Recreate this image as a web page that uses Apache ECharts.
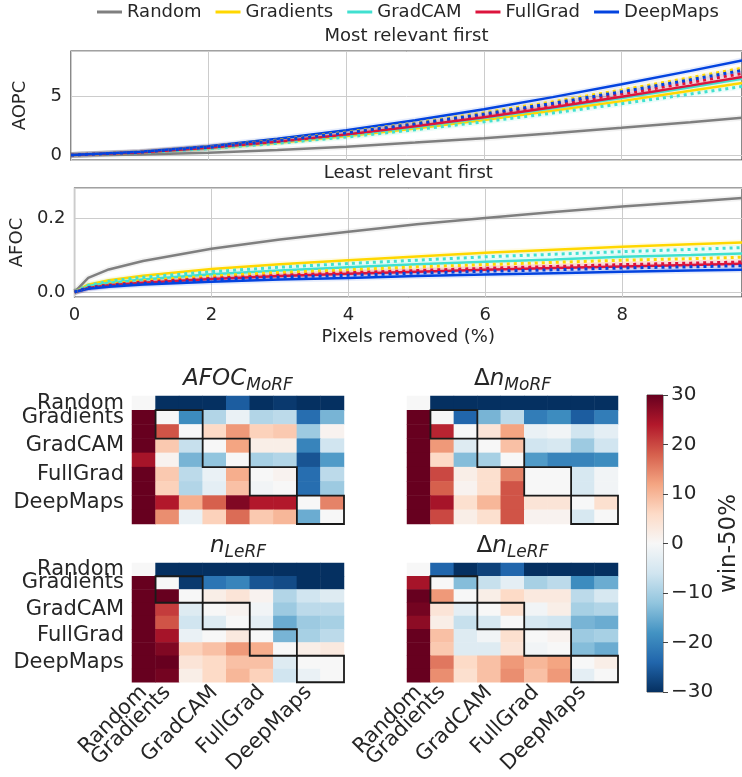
<!DOCTYPE html>
<html><head><meta charset="utf-8">
<script src="https://cdn.jsdelivr.net/npm/echarts@6/dist/echarts.min.js"></script>
<style>html,body{margin:0;padding:0;background:#fff}#c{width:742px;height:777px}</style>
</head><body><div id="c"></div>
<script>
// ---------- data ----------
const methods = ['Random', 'Gradients', 'GradCAM', 'FullGrad', 'DeepMaps'];

// AOPC, most relevant first
const xAOPC = [0, 1, 2, 3, 4, 5, 6, 7, 8, 9, 9.75];
const aopcRandom   = [0, 0.05, 0.2, 0.42, 0.7, 1.05, 1.42, 1.85, 2.3, 2.78, 3.15];
const aopcGrad     = [0, 0.21, 0.57, 1.04, 1.6, 2.25, 2.96, 3.74, 4.56, 5.43, 6.1];
const aopcGrad2    = [0, 0.25, 0.69, 1.26, 1.93, 2.71, 3.57, 4.5, 5.5, 6.54, 7.35];
const aopcCAM      = [0, 0.22, 0.6, 1.1, 1.69, 2.38, 3.13, 3.95, 4.82, 5.74, 6.45];
const aopcCAM2     = [0, 0.2, 0.54, 0.99, 1.52, 2.14, 2.81, 3.55, 4.34, 5.16, 5.8];
const aopcFull     = [0, 0.22, 0.62, 1.13, 1.73, 2.43, 3.2, 4.04, 4.93, 5.87, 6.6];
const aopcFull2    = [0, 0.23, 0.65, 1.18, 1.81, 2.54, 3.35, 4.23, 5.16, 6.14, 6.9];
const aopcDeep     = [0, 0.27, 0.75, 1.37, 2.1, 2.95, 3.88, 4.9, 5.98, 7.12, 8.0];
const aopcDeep2    = [0, 0.24, 0.67, 1.22, 1.88, 2.64, 3.47, 4.38, 5.35, 6.37, 7.15];

// AFOC, least relevant first
const xAFOC = [0, 0.2, 0.5, 1, 2, 3, 4, 5, 6, 7, 8, 9, 9.75];
const afocRandom = [0, 0.038, 0.061, 0.084, 0.117, 0.142, 0.163, 0.183, 0.2, 0.216, 0.231, 0.244, 0.254];
const afocGrad   = [0, 0.02, 0.032, 0.044, 0.062, 0.075, 0.086, 0.096, 0.106, 0.114, 0.122, 0.129, 0.134];
const afocGrad2  = [0, 0.014, 0.023, 0.031, 0.043, 0.053, 0.06, 0.068, 0.074, 0.08, 0.086, 0.09, 0.094];
const afocCAM    = [0, 0.016, 0.025, 0.034, 0.048, 0.058, 0.067, 0.075, 0.082, 0.088, 0.095, 0.1, 0.104];
const afocCAM2   = [0, 0.018, 0.029, 0.04, 0.055, 0.067, 0.077, 0.086, 0.095, 0.102, 0.109, 0.115, 0.12];
const afocFull   = [0, 0.011, 0.018, 0.025, 0.035, 0.043, 0.049, 0.055, 0.06, 0.065, 0.069, 0.073, 0.076];
const afocFull2  = [0, 0.012, 0.019, 0.027, 0.037, 0.045, 0.052, 0.058, 0.064, 0.069, 0.074, 0.078, 0.081];
const afocDeep   = [0, 0.009, 0.014, 0.02, 0.028, 0.034, 0.038, 0.043, 0.047, 0.051, 0.055, 0.058, 0.06];
const afocDeep2  = [0, 0.011, 0.017, 0.023, 0.033, 0.04, 0.045, 0.051, 0.056, 0.06, 0.065, 0.068, 0.071];

// heatmaps (win-50%)
const cats = ['Random', 'Gradients', 'Gradients 2', 'GradCAM', 'GradCAM 2', 'FullGrad', 'FullGrad 2', 'DeepMaps', 'DeepMaps 2'];
const catLabels = ['Random', 'Gradients', '', 'GradCAM', '', 'FullGrad', '', 'DeepMaps', ''];
const blocks = [[1, 2], [3, 4], [5, 6], [7, 8]];

const afocMoRF = [
  [0, -30, -30, -30, -25, -30, -29, -30, -30],
  [30, 0, -19, -9, -2, -9, -8, -23, -14],
  [30, 19, 0, 6, 13, 7, 8, -11, 1],
  [30, 8, -7, 0, 12, 2, 2, -20, -6],
  [25, 1, -14, -12, 0, -10, -9, -26, -17],
  [30, 8, -8, -2, 11, 0, 1, -23, -8],
  [30, 7, -9, -3, 9, -1, 0, -23, -11],
  [30, 24, 11, 18, 28, 24, 24, 0, 15],
  [30, 14, -2, 7, 17, 8, 10, -15, 0]
];
const dnMoRF = [
  [0, -30, -30, -30, -30, -30, -30, -30, -30],
  [30, 0, -24, -14, -8, -21, -19, -25, -21],
  [30, 23, 0, 4, 12, -2, -1, -6, -3],
  [30, 13, -4, 0, 9, -6, -5, -11, -6],
  [30, 6, -13, -10, 0, -17, -20, -20, -19],
  [30, 20, 2, 5, 15, 0, 0, -5, -1],
  [30, 18, 1, 5, 19, 0, 0, -5, -1],
  [30, 25, 5, 10, 19, 4, 4, 0, 5],
  [30, 20, 2, 5, 19, 1, 1, -5, 0]
];
const nLeRF = [
  [0, -30, -30, -30, -30, -30, -30, -30, -30],
  [30, 0, -29, -22, -20, -26, -27, -30, -30],
  [30, 30, 0, 2, 4, 1, -9, -6, -4],
  [30, 21, -4, 0, 1, -1, -11, -8, -8],
  [30, 19, -6, -4, 0, -3, -15, -11, -10],
  [30, 25, -2, 0, 3, 0, -14, -10, -8],
  [30, 28, 7, 9, 13, 11, 0, 2, 3],
  [30, 30, 4, 6, 9, 9, -4, 0, 0],
  [30, 29, 2, 6, 10, 7, -6, -2, 0]
];
const dnLeRF = [
  [0, -24, -30, -28, -24, -30, -30, -30, -30],
  [25, 0, -13, -7, -3, -10, -8, -19, -15],
  [30, 13, 0, 2, 6, 3, 3, -8, -5],
  [29, 4, -3, 0, 5, -1, 2, -10, -9],
  [27, 2, -7, -5, 0, -5, -6, -14, -15],
  [30, 9, -4, -1, 5, 0, 1, -11, -10],
  [30, 8, -4, -4, 4, -1, 0, -13, -15],
  [30, 16, 6, 9, 13, 10, 12, 0, 2],
  [30, 14, 5, 9, 14, 9, 13, -3, 0]
];

const cbarRange = [[0, -30, 30]];

// ---------- styles ----------
const FONT = 'DejaVu Sans';
const TXT = '#262626';
const SPINE = '#444444';
const GRIDC = '#cccccc';
const colors = { Random: '#7f7f7f', Gradients: '#ffd700', GradCAM: '#40e0d0', FullGrad: '#dc143c', DeepMaps: '#0343df' };
const rdbu = ['#053061', '#2166ac', '#4393c3', '#92c5de', '#d1e5f0', '#f7f7f7', '#fddbc7', '#f4a582', '#d6604d', '#b2182b', '#67001f'];

const zip = (xs, ys) => xs.map((x, i) => [x, ys[i]]);
const toCells = m => { const out = []; m.forEach((row, y) => row.forEach((v, x) => out.push([x, y, v]))); return out; };

function lineSeries(name, xs, ys, color, kind, xi, yi) {
  const st = kind === 'halo' ? { color: color, width: 6, opacity: 0.1, type: 'solid' }
           : kind === 'dotted' ? { color: color, width: 3, type: [3, 4] }
           : { color: color, width: 2.5, type: 'solid' };
  return {
    type: 'line', name: name, xAxisIndex: xi, yAxisIndex: yi,
    data: zip(xs, ys), symbol: 'none', smooth: false,
    lineStyle: st, itemStyle: { color: color },
    z: kind === 'halo' ? 1 : kind === 'dotted' ? 3 : 2, silent: true
  };
}

// ---------- grids ----------
const grids = [
  { left: 71, top: 51, width: 674, height: 109 },
  { left: 71, top: 188, width: 674, height: 109 },
  { left: 132, top: 396, width: 212, height: 128 },
  { left: 407, top: 396, width: 211, height: 128 },
  { left: 132, top: 563, width: 212, height: 129 },
  { left: 407, top: 563, width: 211, height: 129 },
  { left: 647, top: 395, width: 16, height: 297 }
].map((g, i) => Object.assign(g, i < 2
  ? { show: true, borderColor: SPINE, borderWidth: 1.25, backgroundColor: '#fff' }
  : i === 6 ? { show: true, borderColor: '#555', borderWidth: 1 } : {}));

const hidden = { axisLine: { show: false }, axisTick: { show: false }, axisLabel: { show: false }, splitLine: { show: false } };

const titleRich = {
  a: { fontFamily: FONT, fontSize: 23, fontStyle: 'italic', color: TXT, verticalAlign: 'bottom', padding: [0, 0, 3, 0] },
  d: { fontFamily: FONT, fontSize: 23, color: TXT, verticalAlign: 'bottom', padding: [0, 0, 3, 0] },
  s: { fontFamily: FONT, fontSize: 17, fontStyle: 'italic', color: TXT, verticalAlign: 'bottom' }
};

function lineXAxis(gi, showLabels, name) {
  return Object.assign({
    type: 'value', gridIndex: gi, min: 0, max: 9.75, interval: 2,
    axisLine: { show: false }, axisTick: { show: false },
    axisLabel: { show: showLabels, showMaxLabel: false, fontFamily: FONT, fontSize: 18, color: TXT, margin: 9 },
    splitLine: { show: true, lineStyle: { color: GRIDC, width: 1 } }
  }, name ? { name: name, nameLocation: 'middle', nameGap: 31, nameTextStyle: { fontFamily: FONT, fontSize: 18, color: TXT } } : {});
}
function topTitleAxis(gi, type, name, gap, rich) {
  return Object.assign({
    type: type, gridIndex: gi, position: 'top', name: name, nameLocation: 'middle', nameGap: gap,
    nameTextStyle: rich ? { rich: titleRich } : { fontFamily: FONT, fontSize: 18, color: TXT }
  }, type === 'category' ? { data: cats } : { min: 0, max: 9.75 }, hidden);
}
function heatXAxis(gi, showLabels) {
  return {
    type: 'category', gridIndex: gi, data: cats, position: 'bottom',
    axisLine: { show: false }, axisTick: { show: false }, splitLine: { show: false },
    axisLabel: { show: showLabels, interval: 0, rotate: 45, margin: 7, fontFamily: FONT, fontSize: 21, color: TXT,
      formatter: (v, i) => catLabels[i] }
  };
}
function heatYAxis(gi, showLabels) {
  return {
    type: 'category', gridIndex: gi, data: cats, inverse: true,
    axisLine: { show: false }, axisTick: { show: false }, splitLine: { show: false },
    axisLabel: { show: showLabels, interval: 0, margin: 8, fontFamily: FONT, fontSize: 21, color: TXT,
      formatter: (v, i) => catLabels[i] }
  };
}

const xAxes = [
  lineXAxis(0, false),
  topTitleAxis(0, 'value', 'Most relevant first', 6, false),
  lineXAxis(1, true, 'Pixels removed (%)'),
  topTitleAxis(1, 'value', 'Least relevant first', 6, false),
  heatXAxis(2, false), topTitleAxis(2, 'category', '{a|AFOC}{s|MoRF}', 2, true),
  heatXAxis(3, false), topTitleAxis(3, 'category', '{d|Δ}{a|n}{s|MoRF}', 2, true),
  heatXAxis(4, true), topTitleAxis(4, 'category', '{a|n}{s|LeRF}', 2, true),
  heatXAxis(5, true), topTitleAxis(5, 'category', '{d|Δ}{a|n}{s|LeRF}', 2, true),
  Object.assign({ type: 'category', gridIndex: 6, data: [''] }, hidden)
];

const yLabel = { fontFamily: FONT, fontSize: 18, color: TXT, margin: 9 };
const yAxes = [
  { type: 'value', gridIndex: 0, min: -0.42, max: 8.8, splitNumber: 2, minInterval: 5, maxInterval: 5,
    name: 'AOPC', nameLocation: 'middle', nameRotate: 90, nameGap: 42,
    nameTextStyle: { fontFamily: FONT, fontSize: 18, color: TXT },
    axisLine: { show: false }, axisTick: { show: false },
    axisLabel: Object.assign({ showMinLabel: false, showMaxLabel: false }, yLabel),
    splitLine: { show: true, lineStyle: { color: GRIDC, width: 1 } } },
  { type: 'value', gridIndex: 1, min: -0.0135, max: 0.281, splitNumber: 2, minInterval: 0.2, maxInterval: 0.2,
    name: 'AFOC', nameLocation: 'middle', nameRotate: 90, nameGap: 42,
    nameTextStyle: { fontFamily: FONT, fontSize: 18, color: TXT },
    axisLine: { show: false }, axisTick: { show: false },
    axisLabel: Object.assign({ showMinLabel: false, showMaxLabel: false, formatter: v => v.toFixed(1) }, yLabel),
    splitLine: { show: true, lineStyle: { color: GRIDC, width: 1 } } },
  heatYAxis(2, true), heatYAxis(3, false), heatYAxis(4, true), heatYAxis(5, false),
  { type: 'value', gridIndex: 6, min: -30, max: 30, interval: 10, position: 'right',
    name: 'win-50%', nameLocation: 'middle', nameRotate: 90, nameGap: 55,
    nameTextStyle: { fontFamily: FONT, fontSize: 23, color: TXT },
    axisLine: { show: false }, splitLine: { show: false },
    axisTick: { show: true, length: 5, lineStyle: { color: '#444', width: 1 } },
    axisLabel: { fontFamily: FONT, fontSize: 20, color: TXT, margin: 8,
      formatter: v => v < 0 ? '\u2212' + Math.abs(v) : String(v) } }
];

// ---------- series ----------
const series = [];
const aopcSets = [
  ['Random', aopcRandom, null], ['Gradients', aopcGrad, aopcGrad2], ['GradCAM', aopcCAM, aopcCAM2],
  ['FullGrad', aopcFull, aopcFull2], ['DeepMaps', aopcDeep, aopcDeep2]
];
const afocSets = [
  ['Random', afocRandom, null], ['Gradients', afocGrad, afocGrad2], ['GradCAM', afocCAM, afocCAM2],
  ['FullGrad', afocFull, afocFull2], ['DeepMaps', afocDeep, afocDeep2]
];
[[aopcSets, xAOPC, 0, 0], [afocSets, xAFOC, 2, 1]].forEach(([sets, xs, xi, yi]) => {
  sets.forEach(([n, a, b]) => {
    series.push(lineSeries(n + ' band', xs, a, colors[n], 'halo', xi, yi));
    if (b) series.push(lineSeries(n + ' (2) band', xs, b, colors[n], 'halo', xi, yi));
  });
  sets.forEach(([n, a, b]) => {
    series.push(lineSeries(n, xs, a, colors[n], 'solid', xi, yi));
    if (b) series.push(lineSeries(n + ' (2)', xs, b, colors[n], 'dotted', xi, yi));
  });
});

const heatIdx = [];
[[afocMoRF, 4, 2], [dnMoRF, 6, 3], [nLeRF, 8, 4], [dnLeRF, 10, 5]].forEach(([m, xi, yi]) => {
  heatIdx.push(series.length);
  series.push({ type: 'heatmap', xAxisIndex: xi, yAxisIndex: yi, data: toCells(m), silent: true,
    itemStyle: { borderWidth: 0 }, emphasis: { disabled: true }, progressive: 0 });
  series.push({ type: 'custom', xAxisIndex: xi, yAxisIndex: yi, data: blocks, silent: true, z: 5, clip: false,
    renderItem: (params, api) => {
      const a = api.value(0), b = api.value(1);
      const p0 = api.coord([a, a]), p1 = api.coord([b, b]);
      const sz = api.size([1, 1]);
      return { type: 'rect',
        shape: { x: Math.min(p0[0], p1[0]) - sz[0] / 2, y: Math.min(p0[1], p1[1]) - sz[1] / 2,
                 width: Math.abs(p1[0] - p0[0]) + sz[0], height: Math.abs(p1[1] - p0[1]) + sz[1] },
        style: { fill: 'none', stroke: '#1a1a1a', lineWidth: 1.8 } };
    } });
});

series.push({ type: 'custom', xAxisIndex: 12, yAxisIndex: 6, data: cbarRange, silent: true,
  encode: { x: 0, y: [1, 2] },
  renderItem: (params, api) => {
    const top = api.coord([0, api.value(2)]), bot = api.coord([0, api.value(1)]);
    const w = api.size([1, 0])[0];
    const stops = rdbu.slice().reverse().map((c, i) => ({ offset: i / (rdbu.length - 1), color: c }));
    return { type: 'rect', shape: { x: top[0] - w / 2, y: top[1], width: w, height: bot[1] - top[1] },
      style: { fill: new echarts.graphic.LinearGradient(0, 0, 0, 1, stops) } };
  } });

const chart = echarts.init(document.getElementById('c'), null, { renderer: 'canvas' });
chart.setOption({
  animation: false,
  backgroundColor: '#ffffff',
  textStyle: { fontFamily: FONT },
  legend: { data: methods.map(n => ({ name: n, icon: 'rect', itemStyle: { color: colors[n] } })),
    top: 3, left: 97, padding: 0, itemWidth: 25, itemHeight: 3, itemGap: 14,
    textStyle: { fontFamily: FONT, fontSize: 18, color: TXT }, selectedMode: false },
  grid: grids,
  xAxis: xAxes,
  yAxis: yAxes,
  visualMap: { type: 'continuous', show: false, min: -30, max: 30, seriesIndex: heatIdx, dimension: 2,
    inRange: { color: rdbu } },
  series: series
});
</script></body></html>
